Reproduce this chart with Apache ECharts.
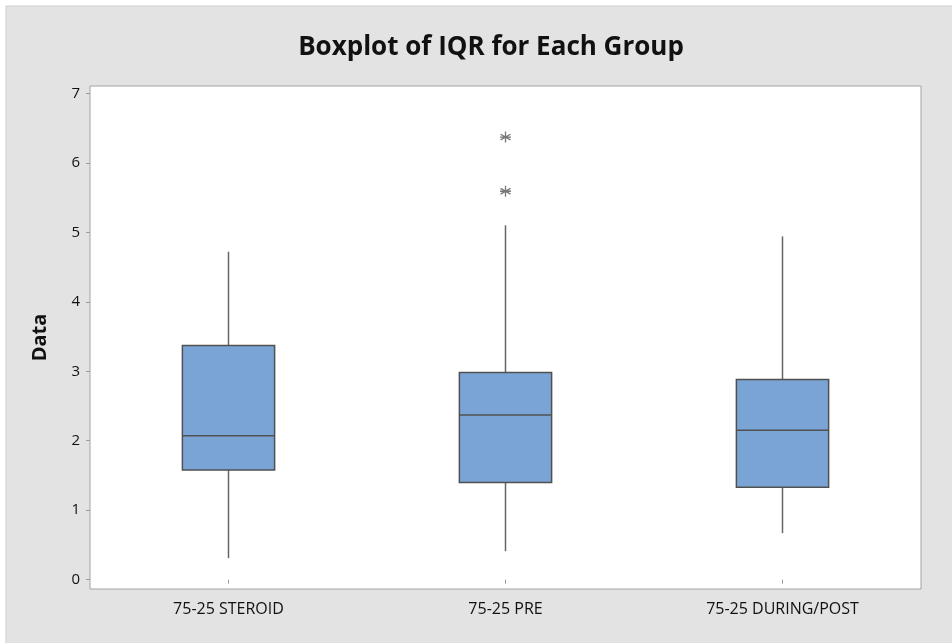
<!DOCTYPE html>
<html>
<head>
<meta charset="utf-8">
<script src="https://cdn.jsdelivr.net/npm/echarts@6/dist/echarts.min.js"></script>
<style>
  html, body { margin: 0; padding: 0; background: #fff; }
  #chart { width: 952px; height: 643px; }
</style>
</head>
<body>
<div id="chart"></div>
<script>
// Groups and their five-number summaries (whisker low, Q1, median, Q3, whisker high)
const categories = ['75-25 STEROID', '75-25 PRE', '75-25 DURING/POST'];
const whiskerLow = [0.31, 0.41, 0.67];
const q1 = [1.58, 1.40, 1.33];
const median = [2.07, 2.37, 2.15];
const q3 = [3.37, 2.98, 2.88];
const whiskerHigh = [4.72, 5.10, 4.94];
// Outliers: [group index, value]
const outliers = [[1, 6.37], [1, 5.59]];
const yTicks = [0, 1, 2, 3, 4, 5, 6, 7];

const boxData = categories.map((c, i) => [i, whiskerLow[i], q1[i], median[i], q3[i], whiskerHigh[i]]);

const chart = echarts.init(document.getElementById('chart'));

const boxFill = '#7BA4D6';
const boxStroke = '#505050';
const font = 'Open Sans';

chart.setOption({
  backgroundColor: '#ffffff',
  animation: false,
  graphic: [{
    type: 'rect',
    z: -100,
    silent: true,
    shape: { x: 6, y: 6, width: 960, height: 650 },
    style: { fill: '#e3e3e3', stroke: '#cdcdcd', lineWidth: 1 }
  }],
  title: {
    text: 'Boxplot of IQR for Each Group',
    left: 486,
    textAlign: 'center',
    top: 30,
    textStyle: { fontFamily: font, fontWeight: 'bold', fontSize: 26, color: '#111' }
  },
  grid: {
    left: 90, right: 31, top: 86, bottom: 54,
    show: true, backgroundColor: '#ffffff', borderColor: '#a3a3a3', borderWidth: 1
  },
  xAxis: {
    type: 'category',
    data: categories,
    axisLine: { show: false },
    axisTick: { show: true, alignWithLabel: true, length: 4, lineStyle: { color: '#9a9a9a' } },
    axisLabel: { margin: 12, fontFamily: font, fontSize: 16, color: '#111' },
    splitLine: { show: false }
  },
  yAxis: {
    type: 'value',
    min: -0.134,
    max: 7.105,
    name: 'Data',
    nameLocation: 'middle',
    nameGap: 40,
    nameRotate: 90,
    nameTextStyle: { fontFamily: font, fontWeight: 'bold', fontSize: 20, color: '#111' },
    axisLine: { show: false },
    axisTick: { show: true, length: 4, customValues: yTicks, lineStyle: { color: '#9a9a9a' } },
    axisLabel: { customValues: yTicks, margin: 10, fontFamily: font, fontSize: 15, color: '#111' },
    splitLine: { show: false }
  },
  series: [{
    type: 'custom',
    data: boxData,
    encode: { x: 0, y: [1, 2, 3, 4, 5] },
    renderItem: function (params, api) {
      const idx = api.value(0);
      const lo = api.coord([idx, api.value(1)]);
      const b1 = api.coord([idx, api.value(2)]);
      const md = api.coord([idx, api.value(3)]);
      const b3 = api.coord([idx, api.value(4)]);
      const hi = api.coord([idx, api.value(5)]);
      const halfW = api.size([1, 0])[0] * 0.333 / 2;
      const cx = lo[0];
      const lineStyle = { stroke: '#666', lineWidth: 1.5, fill: null };
      return {
        type: 'group',
        children: [
          { type: 'line', shape: { x1: cx, y1: lo[1], x2: cx, y2: b1[1] }, style: lineStyle },
          { type: 'line', shape: { x1: cx, y1: b3[1], x2: cx, y2: hi[1] }, style: lineStyle },
          { type: 'rect', shape: { x: cx - halfW, y: b3[1], width: halfW * 2, height: b1[1] - b3[1] },
            style: { fill: boxFill, stroke: boxStroke, lineWidth: 1.5 } },
          { type: 'line', shape: { x1: cx - halfW, y1: md[1], x2: cx + halfW, y2: md[1] },
            style: { stroke: boxStroke, lineWidth: 1.5 } }
        ]
      };
    }
  }, {
    type: 'scatter',
    data: outliers,
    symbol: 'path://M0,-5L0,5M-4.5,-2.6L4.5,2.6M-4.5,2.6L4.5,-2.6M-5,0L5,0',
    symbolSize: 11,
    itemStyle: { color: 'rgba(0,0,0,0)', borderColor: '#555', borderWidth: 1.3 }
  }]
});
</script>
</body>
</html>
